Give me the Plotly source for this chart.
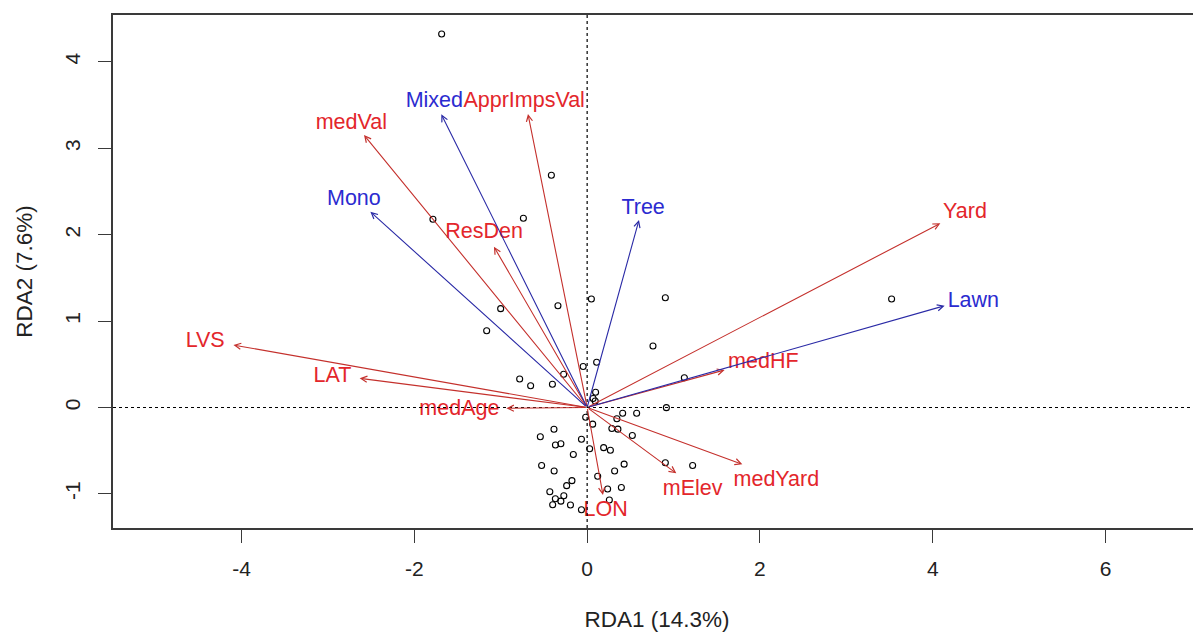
import plotly.graph_objects as go

# Site scores (RDA1, RDA2)
site_x = [-1.684, -0.414, -0.738, -1.785, -1.001, -1.163, -0.338, 0.049, 0.905, 3.524,
          0.762, -0.046, 0.110, -0.272, -0.781, -0.654, -0.402, 1.125, 0.098, 0.069,
          0.093, 0.917, -0.017, 0.411, 0.573, 0.344, 0.064, 0.286, 0.356, 0.523,
          -0.384, -0.542, -0.066, -0.367, -0.304, 0.029, 0.191, 0.269, -0.160, -0.527,
          -0.382, 0.428, 0.318, 0.122, 0.905, 1.221, -0.176, -0.237, 0.396, 0.237,
          -0.432, -0.270, -0.368, -0.304, 0.257, -0.399, -0.193, -0.066]
site_y = [4.323, 2.688, 2.190, 2.178, 1.144, 0.889, 1.178, 1.256, 1.271, 1.256,
          0.712, 0.475, 0.523, 0.384, 0.330, 0.252, 0.269, 0.345, 0.176, 0.104,
          0.075, -0.002, -0.113, -0.066, -0.066, -0.130, -0.193, -0.243, -0.251, -0.324,
          -0.252, -0.338, -0.368, -0.434, -0.420, -0.478, -0.465, -0.495, -0.544, -0.671,
          -0.735, -0.656, -0.735, -0.796, -0.639, -0.671, -0.847, -0.905, -0.926, -0.943,
          -0.976, -1.021, -1.056, -1.084, -1.071, -1.126, -1.128, -1.183]

# Environmental vectors (red)
env_names = ["medVal", "ApprImpsVal", "ResDen", "Yard", "medHF", "LVS", "LAT",
             "medAge", "LON", "mElev", "medYard"]
env_x = [-2.583, -0.685, -1.079, 4.088, 1.591, -4.094, -2.633, -0.935, 0.183, 1.032, 1.796]
env_y = [3.154, 3.397, 1.861, 2.132, 0.434, 0.723, 0.338, -0.009, -1.013, -0.762, -0.657]
env_lab_x = [-2.729, -0.729, -1.192, 4.373, 2.039, -4.421, -2.948, -1.479, 0.214, 1.221, 2.190]
env_lab_y = [3.281, 3.539, 2.020, 2.255, 0.519, 0.762, 0.357, -0.029, -1.194, -0.955, -0.851]

# Species vectors (blue)
sp_names = ["Mixed", "Mono", "Tree", "Lawn"]
sp_x = [-1.688, -2.509, 0.600, 4.138]
sp_y = [3.394, 2.266, 2.170, 1.178]
sp_lab_x = [-1.769, -2.700, 0.648, 4.470]
sp_lab_y = [3.539, 2.402, 2.306, 1.225]

x_ticks = [-4, -2, 0, 2, 4, 6]
x_tick_text = ["-4", "-2", "0", "2", "4", "6"]
y_ticks = [-1, 0, 1, 2, 3, 4]
y_tick_text = ["-1", "0", "1", "2", "3", "4"]

RED_TXT = "#e3262b"
RED_LN = "#c4302c"
BLUE_TXT = "#2b2bd0"
BLUE_LN = "#2a2aa6"
FONT = "Liberation Sans, Arial, sans-serif"

fig = go.Figure()

# zero reference lines
fig.add_hline(y=0, line=dict(color="black", width=1.2, dash="dot"))
fig.add_vline(x=0, line=dict(color="black", width=1.2, dash="dot"))

fig.add_trace(go.Scatter(x=site_x, y=site_y, mode="markers",
                         marker=dict(symbol="circle-open", size=6, color="black",
                                     line=dict(width=1.1, color="black")),
                         hoverinfo="skip"))

annotations = []
for xs, ys, col in [(env_x, env_y, RED_LN), (sp_x, sp_y, BLUE_LN)]:
    for xe, ye in zip(xs, ys):
        annotations.append(dict(x=xe, y=ye, ax=0, ay=0, xref="x", yref="y",
                                axref="x", ayref="y", showarrow=True, text="",
                                arrowhead=5, arrowsize=1.1, arrowwidth=1.1,
                                arrowcolor=col, standoff=0, startstandoff=0))

fig.add_trace(go.Scatter(x=env_lab_x, y=env_lab_y, mode="text", text=env_names,
                         textfont=dict(color=RED_TXT, size=21.5, family=FONT),
                         hoverinfo="skip"))
fig.add_trace(go.Scatter(x=sp_lab_x, y=sp_lab_y, mode="text", text=sp_names,
                         textfont=dict(color=BLUE_TXT, size=21.5, family=FONT),
                         hoverinfo="skip"))

axis_common = dict(showgrid=False, zeroline=False, showline=True, linecolor="#3a3a3a",
                   linewidth=1.5, mirror=True, ticks="outside", ticklen=13,
                   tickwidth=1.3, tickcolor="#3a3a3a", automargin=False,
                   tickfont=dict(size=21, color="#222", family=FONT))

fig.update_layout(
    width=1193, height=625,
    margin=dict(l=105, r=0, t=7, b=105),
    paper_bgcolor="white", plot_bgcolor="white",
    showlegend=False,
    annotations=annotations,
    font=dict(family=FONT, color="#222"),
    xaxis=dict(range=[-5.488, 7.105], tickvals=x_ticks, ticktext=x_tick_text,
               ticklabelstandoff=8,
               title=dict(text="RDA1 (14.3%)", font=dict(size=22.5, color="#222"), standoff=32),
               **axis_common),
    yaxis=dict(range=[-1.395, 4.543], tickvals=y_ticks, ticktext=y_tick_text,
               tickangle=-90, ticklabelstandoff=10,
               title=dict(text="RDA2 (7.6%)", font=dict(size=22.5, color="#222"), standoff=22),
               **axis_common),
)

fig.write_html("out.html")
